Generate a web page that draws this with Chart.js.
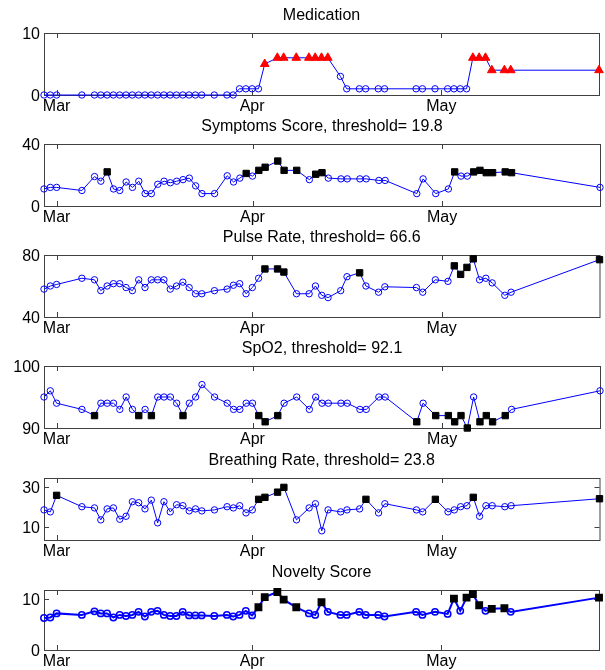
<!DOCTYPE html>
<html>
<head>
<meta charset="utf-8">
<script src="https://cdn.jsdelivr.net/npm/chart.js@4.4.1/dist/chart.umd.min.js"></script>
<style>
  body { margin: 0; background: #fff; }
  .panel { position: absolute; left: 0; }
</style>
</head>
<body>
<script>
// day number counted from 1 March (27 Feb = -2)
const days = [-2, -1, 0, 4, 6, 7, 8, 9, 10, 11,
  12, 13, 14, 15, 16, 17, 18, 19, 20, 21,
  22, 23, 25, 27, 28, 29, 30, 31, 32, 33,
  35, 36, 38, 40, 41, 42, 43, 45, 46, 48,
  49, 51, 52, 57, 58, 60, 62, 63, 64, 65,
  66, 67, 68, 69, 71, 72, 86];
const monthTicks = [0, 31, 61];
const monthLabels = ["Mar", "Apr", "May"];

const medication = [0, 0, 0, 0, 0, 0, 0, 0, 0, 0,
  0, 0, 0, 0, 0, 0, 0, 0, 0, 0,
  0, 0, 0, 0, 0, 1, 1, 1, 1, 5,
  6, 6, 6, 6, 6, 6, 6, 3, 1, 1,
  1, 1, 1, 1, 1, 1, 1, 1, 1, 1,
  6, 6, 6, 4, 4, 4, 4];
const symptoms = [11, 12, 12, 10, 19, 16, 22, 11, 10, 15.5,
  12, 16, 8, 8, 14, 16, 15, 16, 17, 18,
  13, 8, 8, 19.5, 15.5, 18, 21, 19.3, 23, 25,
  29, 23, 23, 17, 20.5, 21.5, 18, 17.5, 17.5, 17.5,
  17.5, 16.5, 16.5, 8, 17.5, 8, 11, 22, 19.3, 19.3,
  22, 23, 21.5, 21.5, 22, 21.5, 12];
const pulse = [58, 60, 61, 65, 64, 57, 60, 61.5, 61.5, 59,
  57, 64, 59, 64, 64, 64, 58, 60, 62.5, 59,
  55, 55, 57, 58, 60.5, 61.5, 55, 59, 65, 71,
  71, 69, 55, 55, 60, 54, 52.5, 57, 66, 68.5,
  60, 56, 59.5, 59, 56, 64, 63, 73, 67.5, 72,
  77.5, 64, 65, 62, 54, 56, 77];
const spo2 = [95, 96, 94, 93, 92, 94, 94, 94, 93, 95,
  93, 92, 93, 92, 95, 95, 95, 94, 92, 94,
  95, 97, 95, 94, 93, 93, 94, 94, 92, 91,
  92, 94, 95, 93, 95, 94, 94, 94, 94, 93,
  93, 95, 95, 91, 94, 92, 92, 91, 92, 90,
  95, 91, 92, 91, 92, 93, 96];
const breathing = [18.7, 17.7, 26, 20.3, 19.7, 13.7, 19.2, 19.7, 14, 15.5,
  22.8, 22.3, 19.2, 23.6, 12.2, 22.8, 17.7, 21.3, 20.8, 18.2,
  19.2, 18.2, 18.7, 20.3, 19.7, 20.8, 17.2, 18.7, 24, 25,
  27.6, 30, 13.7, 19.7, 21.8, 8.2, 18.7, 17.7, 18.7, 19.2,
  24, 17.2, 21.8, 18.7, 17.7, 24, 17.7, 18.7, 20.3, 20.8,
  25, 15.5, 20.8, 20.8, 20.3, 20.8, 24.3];
const novelty = [6.3, 6.4, 7.2, 6.9, 7.6, 7.2, 7.2, 6.4, 6.9, 6.7,
  6.9, 7.5, 6.6, 7.5, 7.7, 6.9, 6.7, 6.7, 7.5, 6.8,
  6.8, 6.8, 6.7, 6.9, 6.6, 6.9, 7.7, 6.8, 8.4, 10.4,
  11.4, 9.9, 8.4, 7.2, 6.9, 9.4, 7.5, 6.9, 6.9, 7.5,
  6.9, 6.9, 6.6, 7.5, 6.9, 7.5, 7.1, 10.1, 7.7, 10.3,
  11.0, 8.8, 7.7, 8.1, 8.2, 7.5, 10.3];

const symptomsThreshold = 19.8;
const pulseThreshold = 66.6;
const spo2Threshold = 92.1;
const breathingThreshold = 23.8;

const medTicks = [0, 10];
const symptomsTicks = [0, 40];
const pulseTicks = [40, 80];
const spo2Ticks = [90, 100];
const breathingTicks = [10, 30];
const noveltyTicks = [0, 10];

const FONT = "'Liberation Sans', Arial, sans-serif";

const panels = [
  { title: "Medication", values: medication, yTicks: medTicks, yMin: 0, yMax: 10,
    flag: v => v > 3.5, flagStyle: "triangle", flagColor: "red", flagRadius: 5, top: 33, h: 62, lw: 1 },
  { title: "Symptoms Score, threshold= " + symptomsThreshold, values: symptoms, yTicks: symptomsTicks, yMin: 0, yMax: 40,
    flag: v => v > symptomsThreshold, top: 144, h: 62, lw: 1 },
  { title: "Pulse Rate, threshold= " + pulseThreshold, values: pulse, yTicks: pulseTicks, yMin: 40, yMax: 80,
    flag: v => v > pulseThreshold, top: 255, h: 62, lw: 1 },
  { title: "SpO2, threshold= " + spo2Threshold, values: spo2, yTicks: spo2Ticks, yMin: 90, yMax: 100,
    flag: v => v < spo2Threshold, top: 366, h: 62, lw: 1 },
  { title: "Breathing Rate, threshold= " + breathingThreshold, values: breathing, yTicks: breathingTicks, yMin: 3.6, yMax: 34.7,
    flag: v => v > breathingThreshold, top: 478, h: 62, lw: 1 },
  { title: "Novelty Score", values: novelty, yTicks: noveltyTicks, yMin: 0, yMax: 11.8,
    flag: v => v > 8, top: 590, h: 60, lw: 2 },
];

// box, inward ticks and title, matlab style
const axesBox = {
  id: "axesBox",
  beforeDatasetsDraw(chart) {
    const { ctx, chartArea: a, scales } = chart;
    ctx.save();
    ctx.strokeStyle = "#404040";
    ctx.lineWidth = 1;
    ctx.strokeRect(a.left + 0.5, a.top + 0.5, a.width, a.height);
    ctx.beginPath();
    scales.x.ticks.forEach(t => {
      const px = Math.round(scales.x.getPixelForValue(t.value)) + 0.5;
      ctx.moveTo(px, a.top); ctx.lineTo(px, a.top + 5);
      ctx.moveTo(px, a.bottom); ctx.lineTo(px, a.bottom - 5);
    });
    scales.y.ticks.forEach(t => {
      const py = Math.round(scales.y.getPixelForValue(t.value)) + 0.5;
      ctx.moveTo(a.left, py); ctx.lineTo(a.left + 5, py);
      ctx.moveTo(a.right, py); ctx.lineTo(a.right - 5, py);
    });
    ctx.stroke();
    ctx.fillStyle = "#000";
    ctx.font = "16px " + FONT;
    ctx.textAlign = "center";
    ctx.textBaseline = "middle";
    ctx.fillText(chart.options.plugins.axesBox.title, (a.left + a.right) / 2, a.top - 17);
    ctx.restore();
  }
};

panels.forEach(p => {
  const H = 33 + p.h + 24;
  const div = document.createElement("div");
  div.className = "panel";
  div.style.top = (p.top - 33) + "px";
  const canvas = document.createElement("canvas");
  canvas.width = 605;
  canvas.height = H;
  canvas.style.width = "605px";
  canvas.style.height = H + "px";
  div.appendChild(canvas);
  document.body.appendChild(div);

  const isFlag = ctx => p.flag(p.values[ctx.dataIndex]);

  new Chart(canvas.getContext("2d"), {
    type: "line",
    data: {
      datasets: [{
        data: days.map((d, i) => ({ x: d, y: p.values[i] })),
        borderColor: "#0000ff",
        borderWidth: p.lw,
        tension: 0,
        fill: false,
        clip: false,
        pointStyle: ctx => isFlag(ctx) ? (p.flagStyle || "rect") : "circle",
        pointRadius: ctx => isFlag(ctx) ? (p.flagRadius || 4.5) : 3.2,
        pointBackgroundColor: ctx => isFlag(ctx) ? (p.flagColor || "#000") : "rgba(0,0,0,0)",
        pointBorderColor: ctx => isFlag(ctx) ? (p.flagColor || "#000") : "#0000ff",
        pointBorderWidth: p.lw === 2 ? 1.5 : 1,
      }]
    },
    options: {
      responsive: false,
      animation: false,
      layout: { padding: { top: 33, right: 4, left: 0, bottom: 0 } },
      plugins: {
        legend: { display: false },
        tooltip: { enabled: false },
        axesBox: { title: p.title },
      },
      scales: {
        x: {
          type: "linear",
          min: -2,
          max: 86,
          afterBuildTicks: s => { s.ticks = monthTicks.map(v => ({ value: v })); },
          afterFit: s => { s.height = 24; },
          grid: { display: false, drawTicks: false },
          border: { display: false },
          ticks: {
            autoSkip: false,
            maxRotation: 0,
            padding: 2,
            color: "#000",
            font: { family: FONT, size: 16 },
            callback: v => monthLabels[monthTicks.indexOf(v)],
          },
        },
        y: {
          min: p.yMin,
          max: p.yMax,
          afterBuildTicks: s => { s.ticks = p.yTicks.map(v => ({ value: v })); },
          afterFit: s => { s.width = 44; },
          grid: { display: false, drawTicks: false },
          border: { display: false },
          ticks: {
            padding: 4,
            labelOffset: 1.5,
            color: "#000",
            font: { family: FONT, size: 16 },
            callback: v => String(v),
          },
        },
      },
    },
    plugins: [axesBox],
  });
});
</script>
</body>
</html>
